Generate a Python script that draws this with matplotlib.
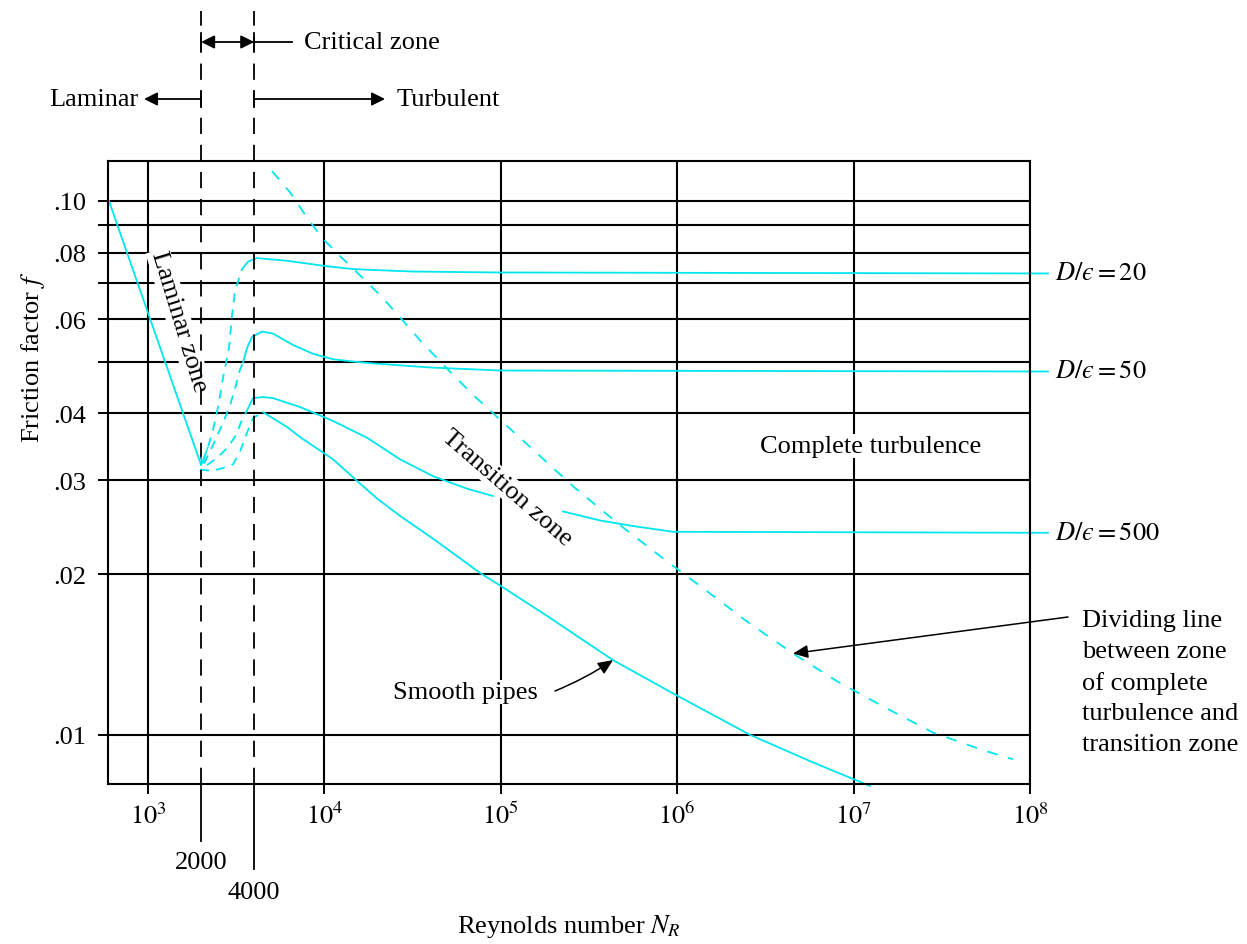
import numpy as np
import matplotlib
matplotlib.use("Agg")
import matplotlib.pyplot as plt
from matplotlib.ticker import FixedLocator, FixedFormatter, NullLocator

plt.rcParams['font.family'] = ['Liberation Serif', 'DejaVu Serif']
plt.rcParams['mathtext.fontset'] = 'stix'

# ---------------- data ----------------
laminar_re = [600, 2000]
laminar_f = [0.100, 0.032]

crit20_re = [2050, 2188, 2336, 2494, 2662, 2879, 2994, 3113, 3412]
crit20_f = [0.0325, 0.0346, 0.0372, 0.0411, 0.0466, 0.0530, 0.0611, 0.0678, 0.0745]
rough20_re = [3412, 3689, 4149, 4727, 6138, 7966, 10340, 14530, 18860, 31790, 1e5, 1e8, 1.265e8]
rough20_f = [0.0745, 0.0769, 0.0781, 0.0778, 0.0772, 0.0763, 0.0754, 0.0745, 0.0742, 0.0737,
             0.0734, 0.0731, 0.0731]

crit50_re = [2077, 2336, 2627, 2917, 3154, 3323, 3457]
crit50_f = [0.0322, 0.0349, 0.0380, 0.0414, 0.0452, 0.0483, 0.0498]
rough50_re = [3457, 3641, 3887, 4429, 5113, 6637, 8618, 11190, 14530, 18860, 41270, 1e5, 1e8, 1.265e8]
rough50_f = [0.0498, 0.0530, 0.0556, 0.0569, 0.0564, 0.0537, 0.0517, 0.0505, 0.0500, 0.0496,
             0.0487, 0.0481, 0.0479, 0.0479]

crit500_re = [2160, 2494, 2842, 3154, 3367, 3641]
crit500_f = [0.0320, 0.0331, 0.0346, 0.0364, 0.0385, 0.0405]
rough500a_re = [3641, 3938, 4487, 5113, 7273, 11190, 17440, 26830, 41270, 64340, 90330]
rough500a_f = [0.0405, 0.0427, 0.0429, 0.0427, 0.0411, 0.0387, 0.0360, 0.0328, 0.0305, 0.0289, 0.0280]
rough500b_re = [225200, 365100, 561600, 946600, 1e8, 1.265e8]
rough500b_f = [0.0262, 0.0252, 0.0246, 0.0240, 0.0239, 0.0239]

critsm_re = [1972, 2306, 2662, 3033, 3323, 3594, 3938, 4487]
critsm_f = [0.0314, 0.0312, 0.0316, 0.0321, 0.0339, 0.0364, 0.0392, 0.0402]
smooth_re = [4487, 6138, 7273, 11190, 15110, 19880, 26830, 41270, 76230, 1e5, 182800, 432600,
             971700, 2.587e6, 5.887e6, 1.239e7]
smooth_f = [0.0402, 0.0377, 0.0361, 0.0328, 0.0300, 0.0277, 0.0257, 0.0233, 0.0201, 0.0190,
            0.0167, 0.0138, 0.0119, 0.0100, 0.00888, 0.00802]

divide_re = [5046, 6383, 7966, 9820, 12260, 15910, 20670, 26830, 34830, 49540, 69580, 1e5,
             152200, 256600, 474000, 830900, 1.347e6, 2.487e6, 4.535e6, 8.053e6, 1.547e7,
             2.819e7, 5.415e7, 8.012e7]
divide_f = [0.1136, 0.1037, 0.0930, 0.0848, 0.0788, 0.0725, 0.0666, 0.0605, 0.0548, 0.0485,
            0.0433, 0.0388, 0.0342, 0.0292, 0.0247, 0.0214, 0.0190, 0.0163, 0.0142, 0.0126,
            0.0112, 0.0101, 0.00936, 0.00900]

re_limits = [2000, 4000]
x_ticks = [1e3, 1e4, 1e5, 1e6, 1e7, 1e8]
x_ticklabels = ['$10^3$', '$10^4$', '$10^5$', '$10^6$', '$10^7$', '$10^8$']
y_ticks = [0.01, 0.02, 0.03, 0.04, 0.05, 0.06, 0.07, 0.08, 0.09, 0.10]
y_ticklabels = ['.01', '.02', '.03', '.04', '', '.06', '', '.08', '', '.10']
roughness_labels = ['20', '50', '500']

# ---------------- figure ----------------
W, H = 1247, 945
fig = plt.figure(figsize=(W / 100, H / 100), dpi=100)
ax = fig.add_axes([108 / W, 1 - 785 / H, 922 / W, 623 / H])
ax.set_xscale('log')
ax.set_yscale('log')
ax.set_xlim(593, 1e8)
ax.set_ylim(0.00809, 0.1187)

FS = 19
CYAN = '#00e6ee'
LW = 1.3

ax.xaxis.set_major_locator(FixedLocator(x_ticks))
ax.xaxis.set_major_formatter(FixedFormatter(x_ticklabels))
ax.xaxis.set_minor_locator(NullLocator())
ax.yaxis.set_major_locator(FixedLocator(y_ticks))
ax.yaxis.set_major_formatter(FixedFormatter(y_ticklabels))
ax.yaxis.set_minor_locator(NullLocator())
ax.tick_params(axis='both', direction='out', length=7, width=1.4, labelsize=FS, color='k')
ax.tick_params(axis='x', pad=6)
ax.tick_params(axis='y', pad=9)
ax.set_axisbelow(True)
ax.grid(True, which='major', color='k', lw=1.5)
for s in ax.spines.values():
    s.set_linewidth(1.5)

def px(x, y):
    return (x / W, 1 - y / H)

# curves
ax.plot(laminar_re, laminar_f, color=CYAN, lw=LW)
dash_c = (0, (5, 4))
for r, f in [(crit20_re, crit20_f), (crit50_re, crit50_f), (crit500_re, crit500_f), (critsm_re, critsm_f)]:
    ax.plot(r, f, color=CYAN, lw=LW, ls=dash_c)
for r, f in [(rough20_re, rough20_f), (rough50_re, rough50_f), (rough500a_re, rough500a_f),
             (rough500b_re, rough500b_f), (smooth_re, smooth_f)]:
    ax.plot(r, f, color=CYAN, lw=LW, clip_on=False)
ax.plot(divide_re, divide_f, color=CYAN, lw=LW, ls=(0, (6, 6)))

# small arrow into the laminar end
ax.annotate('', xy=(laminar_re[1], laminar_f[1]), xytext=(crit20_re[1], crit20_f[1]),
            arrowprops=dict(arrowstyle='->', color=CYAN, lw=1.0, shrinkA=0, shrinkB=0,
                            mutation_scale=10))

# zone boundaries
trans = ax.get_xaxis_transform()
top_ext = 1 + 150 / 623
for r, low in zip(re_limits, [-57 / 623, -85 / 623]):
    ax.plot([r, r], [0, top_ext], transform=trans, color='k', lw=1.3, ls=(0, (9, 6)), clip_on=False)
    ax.plot([r, r], [low, 0], transform=trans, color='k', lw=1.3, clip_on=False)
ax.text(re_limits[0], -78 / 623, str(re_limits[0]), transform=trans, ha='center', va='center', fontsize=FS)
ax.text(re_limits[1], -108 / 623, str(re_limits[1]), transform=trans, ha='center', va='center', fontsize=FS)

crit_y = 1 + (162 - 43) / 623
lam_y = 1 + (162 - 100) / 623
aprops = dict(color='k', lw=1.3, shrinkA=0, shrinkB=0, mutation_scale=16)
ax.annotate('', xy=(re_limits[0], crit_y), xytext=(re_limits[1], crit_y), xycoords=trans,
            textcoords=trans, arrowprops=dict(arrowstyle='<|-|>,head_length=0.5,head_width=0.25', **aprops),
            annotation_clip=False)
ax.plot([re_limits[1], 6552], [crit_y, crit_y], transform=trans, color='k', lw=1.3, clip_on=False)
ax.text(7657, crit_y, 'Critical zone', transform=trans, ha='left', va='center', fontsize=FS)
ax.annotate('', xy=(949, lam_y), xytext=(re_limits[0], lam_y), xycoords=trans, textcoords=trans,
            arrowprops=dict(arrowstyle='-|>,head_length=0.5,head_width=0.25', **aprops), annotation_clip=False)
ax.text(877, lam_y, 'Laminar', transform=trans, ha='right', va='center', fontsize=FS)
ax.annotate('', xy=(22060, lam_y), xytext=(re_limits[1], lam_y), xycoords=trans, textcoords=trans,
            arrowprops=dict(arrowstyle='-|>,head_length=0.5,head_width=0.25', **aprops), annotation_clip=False)
ax.text(25800, lam_y, 'Turbulent', transform=trans, ha='left', va='center', fontsize=FS)
for r in re_limits:
    for yc, hh in [(crit_y, 9 / 623), (lam_y, 8 / 623)]:
        ax.plot([r, r], [yc - hh, yc + hh], transform=trans, color='k', lw=1.3, clip_on=False)

# labels on the plot
box = dict(facecolor='white', edgecolor='none', pad=1)
ax.text(*px(179, 322), 'Laminar zone', transform=fig.transFigure, rotation=-73, rotation_mode='anchor',
        ha='center', va='center', fontsize=FS, bbox=box, zorder=1.5)
ax.text(*px(507, 488), 'Transition zone', transform=fig.transFigure, rotation=-41, rotation_mode='anchor',
        ha='center', va='center', fontsize=FS, bbox=box, zorder=1.5)
ax.text(*px(871, 447), 'Complete turbulence', transform=fig.transFigure, ha='center', va='center',
        fontsize=FS, bbox=box, zorder=1.5)
ax.text(*px(465, 693), 'Smooth pipes', transform=fig.transFigure, ha='center', va='center',
        fontsize=FS, bbox=box, zorder=1.5)

ytr = ax.get_yaxis_transform()
for lab, f in zip(roughness_labels, [rough20_f[-1], rough50_f[-1], rough500b_f[-1]]):
    ax.text(1 + 25 / 922, f, '$D/\u03f5 = %s$' % lab, transform=ytr, ha='left', va='center', fontsize=FS)

ax.annotate('', xy=(smooth_re[11], smooth_f[11]), xytext=px(555, 692), textcoords='figure fraction',
            arrowprops=dict(arrowstyle='-|>,head_length=0.5,head_width=0.22', color='k', lw=1.1,
                            shrinkA=0, shrinkB=0, mutation_scale=18, connectionstyle='arc3,rad=0.05'))
ax.annotate('', xy=(divide_re[18], divide_f[18]), xytext=px(1068, 618), textcoords='figure fraction',
            arrowprops=dict(arrowstyle='-|>,head_length=0.5,head_width=0.22', color='k', lw=1.1,
                            shrinkA=0, shrinkB=0, mutation_scale=18), annotation_clip=False)
fig.text(*px(1082, 683), 'Dividing line\nbetween zone\nof complete\nturbulence and\ntransition zone',
         ha='left', va='center', fontsize=FS, linespacing=1.5)

fig.text(*px(33, 357), 'Friction factor $f$', rotation=90, ha='center', va='center', fontsize=FS)
fig.text(*px(569, 927), 'Reynolds number $N_R$', ha='center', va='center', fontsize=FS)

fig.savefig('out.png', dpi=100, facecolor='white')
